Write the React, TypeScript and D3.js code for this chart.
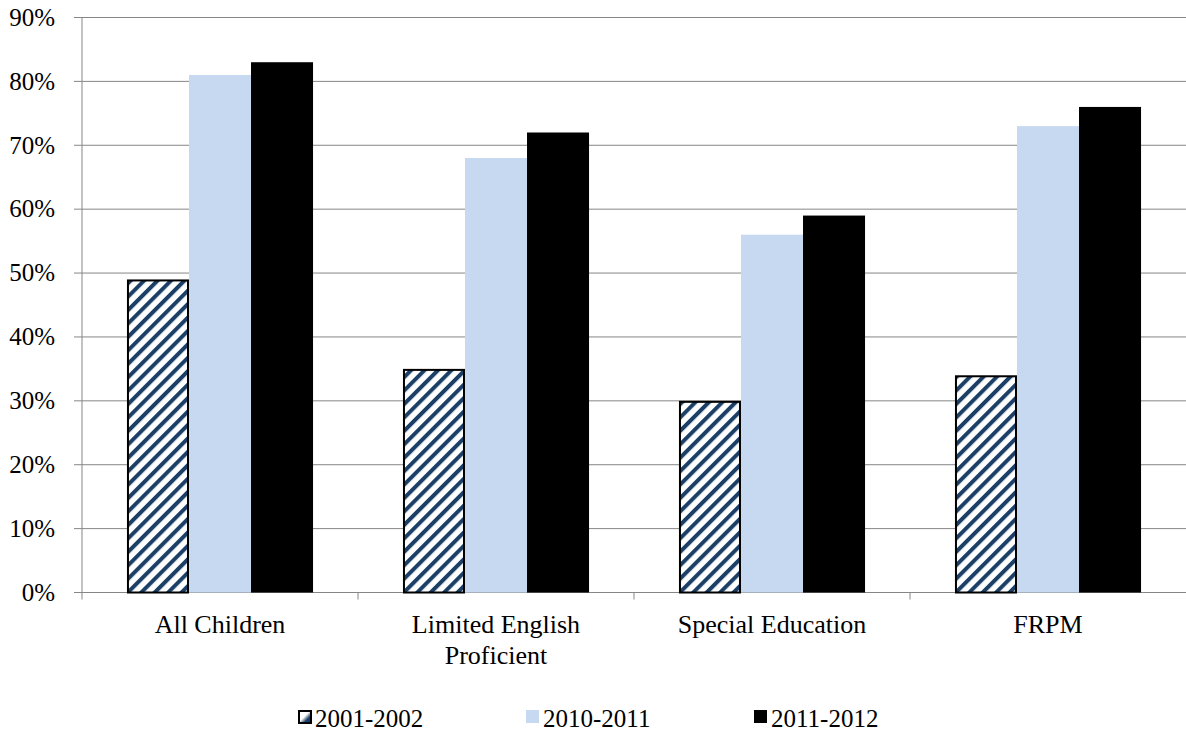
import React from "react";
import * as d3 from "d3";

// Share of children by school year, per student group
const categories = ["All Children", "Limited English Proficient", "Special Education", "FRPM"];
const categoryLines = [["All Children"], ["Limited English", "Proficient"], ["Special Education"], ["FRPM"]];
const seriesNames = ["2001-2002", "2010-2011", "2011-2012"];
const values2001 = [49, 35, 30, 34];
const values2010 = [81, 68, 56, 73];
const values2011 = [83, 72, 59, 76];
const yTicks = [0, 10, 20, 30, 40, 50, 60, 70, 80, 90];

const W = 1186;
const H = 731;
const margin = { top: 17.5, right: 0, bottom: 138.5, left: 82 };
const FONT = "\"Liberation Serif\", \"Times New Roman\", Times, serif";
const NAVY = "#1B3F66";
const LIGHT = "#C6D9F1";

export default function App() {
  const innerW = W - margin.left - margin.right;
  const innerH = H - margin.top - margin.bottom;

  const x0 = d3.scaleBand<string>().domain(categories).range([0, innerW]).paddingInner(0).paddingOuter(0);
  const x1 = d3
    .scaleBand<string>()
    .domain(seriesNames)
    .range([0, x0.bandwidth()])
    .paddingInner(0)
    .paddingOuter(0.725);
  const y = d3.scaleLinear().domain([0, 90]).range([innerH, 0]);

  const series = [values2001, values2010, values2011];
  const fills = ["url(#hatch)", LIGHT, "#000000"];

  const legend = d3.scaleBand<string>().domain(seriesNames).range([298, 982]);

  return (
    <div style={{ position: "absolute", left: 0, top: 0 }}>
      <svg width={W} height={H} style={{ display: "block", background: "#fff", fontFamily: FONT }}>
        <defs>
          <pattern id="hatch" patternUnits="userSpaceOnUse" width={9.5} height={9.5} patternTransform="rotate(45)">
            <rect width={9.5} height={9.5} fill="#ffffff" />
            <rect width={4} height={9.5} fill={NAVY} />
          </pattern>
          <linearGradient id="legendHatch" x1="0" y1="0" x2="1" y2="1">
            <stop offset="0" stopColor="#ffffff" />
            <stop offset="0.45" stopColor="#ffffff" />
            <stop offset="0.7" stopColor={NAVY} />
            <stop offset="1" stopColor={NAVY} />
          </linearGradient>
        </defs>
        <g transform={`translate(${margin.left},${margin.top})`}>
          {/* gridlines */}
          {yTicks.map((t) => (
            <line key={t} x1={-8} x2={innerW} y1={y(t)} y2={y(t)} stroke="#868686" strokeWidth={1} />
          ))}
          {/* y axis line */}
          <line x1={0} x2={0} y1={0} y2={innerH} stroke="#868686" strokeWidth={1} />
          {/* x axis tick marks at category boundaries */}
          {categories.map((c) => (
            <line
              key={c}
              x1={x0(c)!}
              x2={x0(c)!}
              y1={innerH}
              y2={innerH + 7}
              stroke="#868686"
              strokeWidth={1}
            />
          ))}
          {/* y tick labels */}
          {yTicks.map((t) => (
            <text key={t} x={-27} y={y(t)} dy="0.33em" textAnchor="end" fontSize={25} fill="#000">
              {t}%
            </text>
          ))}
          {/* bars */}
          {categories.map((c, ci) => (
            <g key={c} transform={`translate(${x0(c)},0)`}>
              {series.map((vals, si) => {
                const bx = x1(seriesNames[si])!;
                const bw = x1.bandwidth();
                const by = y(vals[ci]);
                const bh = innerH - by;
                return si === 0 ? (
                  <rect
                    key={si}
                    x={bx + 1}
                    y={by + 1}
                    width={bw - 2}
                    height={bh - 1}
                    fill={fills[si]}
                    stroke="#000"
                    strokeWidth={2}
                  />
                ) : (
                  <rect key={si} x={bx} y={by} width={bw} height={bh} fill={fills[si]} />
                );
              })}
            </g>
          ))}
          {/* category labels */}
          {categories.map((c, ci) => (
            <text
              key={c}
              x={x0(c)! + x0.bandwidth() / 2}
              y={innerH + 40}
              textAnchor="middle"
              fontSize={26}
              fill="#000"
            >
              {categoryLines[ci].map((line, li) => (
                <tspan key={li} x={x0(c)! + x0.bandwidth() / 2} dy={li === 0 ? 0 : 31}>
                  {line}
                </tspan>
              ))}
            </text>
          ))}
        </g>
        {/* legend */}
        {seriesNames.map((s, si) => (
          <g key={s} transform={`translate(${legend(s)},${717})`}>
            <rect
              x={si === 0 ? 1 : 0}
              y={si === 0 ? -6 : -7}
              width={si === 0 ? 12 : 13}
              height={si === 0 ? 12 : 13}
              fill={si === 0 ? "url(#legendHatch)" : fills[si]}
              stroke={si === 0 ? "#000" : "none"}
              strokeWidth={2}
            />
            <text x={17} y={10} fontSize={25} fill="#000">
              {s}
            </text>
          </g>
        ))}
      </svg>
    </div>
  );
}
